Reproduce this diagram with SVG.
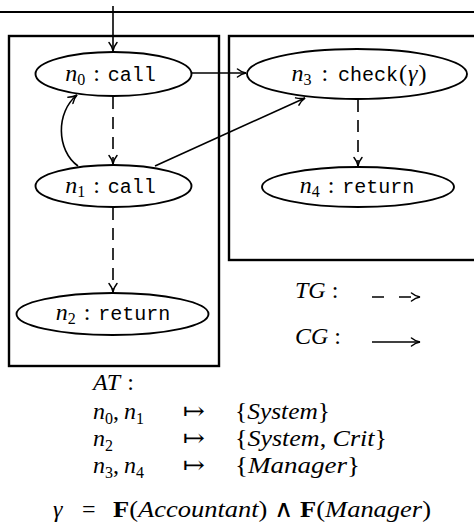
<svg xmlns="http://www.w3.org/2000/svg" width="474" height="527" viewBox="0 0 474 527">
<style>
.frame{fill:none;stroke:#000;stroke-width:2.4}
.node{fill:#fff;stroke:#000;stroke-width:1.9}
.e{fill:none;stroke:#000;stroke-width:1.6}
.d{stroke-dasharray:12,8}
text{font-family:"Liberation Serif","DejaVu Serif",serif;font-size:24px;fill:#000}
.i{font-style:italic}
.m{font-family:"Liberation Mono",monospace;font-size:20px}
.s{font-size:16px;font-style:normal}
.b{font-weight:bold;font-style:normal}
</style>
<defs>
<marker id="a" markerWidth="12" markerHeight="10" refX="10" refY="5" orient="auto" markerUnits="userSpaceOnUse">
<path d="M1.5,1 Q5.5,4.3 10,5 Q5.5,5.7 1.5,9" fill="none" stroke="#000" stroke-width="1.5" stroke-linecap="round"/>
</marker>
</defs>
<line x1="0" y1="12" x2="474" y2="12" stroke="#000" stroke-width="2"/>
<rect class="frame" x="9" y="36" width="210" height="330"/>
<rect class="frame" x="229" y="36" width="248" height="224"/>
<g id="connectors">
<line class="e" x1="113" y1="6" x2="113" y2="51" marker-end="url(#a)"/>
<line class="e" x1="192" y1="73" x2="246" y2="73" marker-end="url(#a)"/>
<line class="e" x1="155" y1="166" x2="305" y2="98" marker-end="url(#a)"/>
<path class="e" d="M78,166 C56,150 56,112 77,95" marker-end="url(#a)"/>
<line class="e d" x1="113" y1="97" x2="113" y2="164" marker-end="url(#a)"/>
<line class="e d" x1="113" y1="208" x2="113" y2="292" marker-end="url(#a)"/>
<line class="e d" x1="358" y1="100" x2="358" y2="166" marker-end="url(#a)"/>
<line class="e" x1="372" y1="297" x2="420" y2="297" stroke-dasharray="12,15" marker-end="url(#a)"/>
<line class="e" x1="372" y1="342" x2="420" y2="342" marker-end="url(#a)"/>
</g>
<g id="n0">
<ellipse class="node" cx="113.5" cy="74" rx="78" ry="22"/>
<text x="110.5" y="81" text-anchor="middle"><tspan class="i">n</tspan><tspan class="s" dy="4">0</tspan><tspan dy="-4" dx="8">:</tspan><tspan class="m" dx="8">call</tspan></text>
</g>
<g id="n1">
<ellipse class="node" cx="113.5" cy="186" rx="78" ry="21"/>
<text x="110.5" y="193" text-anchor="middle"><tspan class="i">n</tspan><tspan class="s" dy="4">1</tspan><tspan dy="-4" dx="8">:</tspan><tspan class="m" dx="8">call</tspan></text>
</g>
<g id="n2">
<ellipse class="node" cx="112.5" cy="314" rx="96" ry="21"/>
<text x="113" y="320" text-anchor="middle"><tspan class="i">n</tspan><tspan class="s" dy="4">2</tspan><tspan dy="-4" dx="8">:</tspan><tspan class="m" dx="8">return</tspan></text>
</g>
<g id="n3">
<ellipse class="node" cx="357" cy="74" rx="110" ry="25"/>
<text x="359" y="81" text-anchor="middle"><tspan class="i">n</tspan><tspan class="s" dy="4">3</tspan><tspan dy="-4" dx="10">:</tspan><tspan class="m" dx="10">check</tspan><tspan dx="1">(</tspan><tspan class="i" dx="1">γ</tspan><tspan dx="1">)</tspan></text>
</g>
<g id="n4">
<ellipse class="node" cx="358" cy="187" rx="96" ry="20"/>
<text x="357" y="193" text-anchor="middle"><tspan class="i">n</tspan><tspan class="s" dy="4">4</tspan><tspan dy="-4" dx="8">:</tspan><tspan class="m" dx="8">return</tspan></text>
</g>
<g id="legend">
<text x="295" y="298"><tspan class="i">TG</tspan><tspan dx="6">:</tspan></text>
<text x="295" y="344"><tspan class="i">CG</tspan><tspan dx="6">:</tspan></text>
</g>
<g id="at">
<text x="93" y="390" font-size="25"><tspan class="i">AT</tspan><tspan dx="7">:</tspan></text>
<text x="93" y="419" font-size="25"><tspan class="i">n</tspan><tspan class="s" dy="5">0</tspan><tspan dy="-5">,</tspan><tspan class="i" dx="5">n</tspan><tspan class="s" dy="5">1</tspan></text>
<text x="183" y="419" font-size="22" textLength="22" lengthAdjust="spacingAndGlyphs">↦</text>
<text x="235" y="419" font-size="25" textLength="95" lengthAdjust="spacingAndGlyphs">{<tspan class="i">System</tspan>}</text>
<text x="93" y="446" font-size="25"><tspan class="i">n</tspan><tspan class="s" dy="5">2</tspan></text>
<text x="183" y="446" font-size="22" textLength="22" lengthAdjust="spacingAndGlyphs">↦</text>
<text x="235" y="446" font-size="25" textLength="152" lengthAdjust="spacingAndGlyphs">{<tspan class="i">System</tspan>, <tspan class="i">Crit</tspan>}</text>
<text x="93" y="473" font-size="25"><tspan class="i">n</tspan><tspan class="s" dy="5">3</tspan><tspan dy="-5">,</tspan><tspan class="i" dx="5">n</tspan><tspan class="s" dy="5">4</tspan></text>
<text x="183" y="473" font-size="22" textLength="22" lengthAdjust="spacingAndGlyphs">↦</text>
<text x="235" y="473" font-size="25" textLength="125" lengthAdjust="spacingAndGlyphs">{<tspan class="i">Manager</tspan>}</text>
<text x="53" y="517" font-size="25" class="i">γ</text>
<text x="82" y="517" font-size="25">=</text>
<text x="113" y="517" font-size="25" textLength="318" lengthAdjust="spacingAndGlyphs"><tspan class="b">F</tspan>(<tspan class="i">Accountant</tspan>) ∧ <tspan class="b">F</tspan>(<tspan class="i">Manager</tspan>)</text>
</g>
</svg>
